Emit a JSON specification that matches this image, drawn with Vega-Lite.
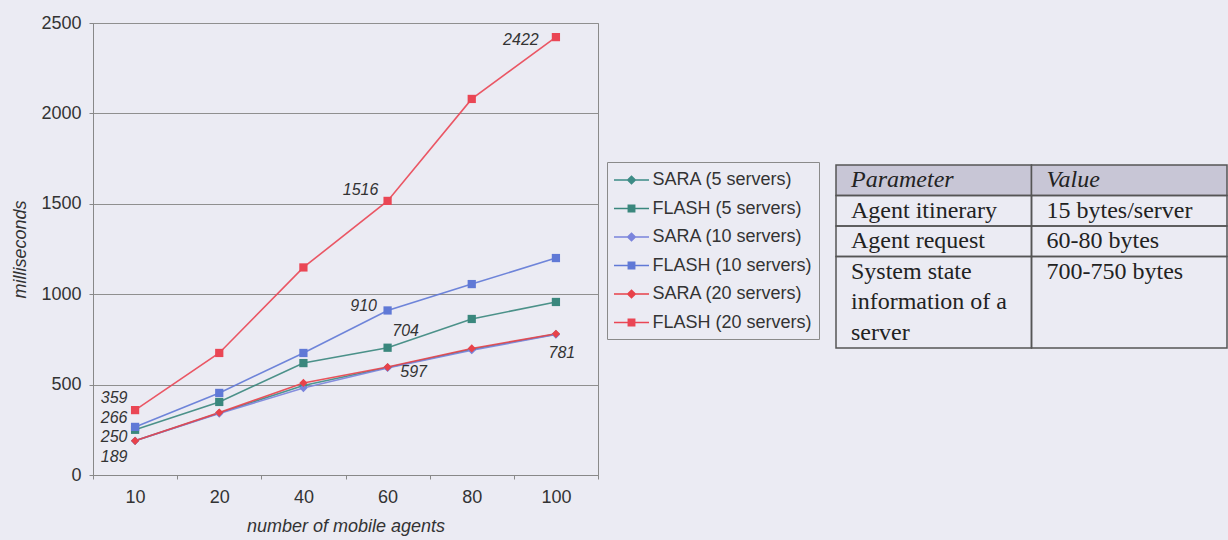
{
  "$schema": "https://vega.github.io/schema/vega-lite/v6.json",
  "width": 505,
  "height": 452,
  "autosize": {"type": "none"},
  "padding": {"left": 93, "top": 23, "right": 630, "bottom": 65},
  "background": "#ebebf3",
  "config": {
    "view": {"stroke": "#8a8a8a", "strokeWidth": 1},
    "font": "Liberation Sans"
  },
  "datasets": {
    "perf": [
      {"series": "SARA (5 servers)", "n": 10, "ms": 189},
      {"series": "SARA (5 servers)", "n": 20, "ms": 343},
      {"series": "SARA (5 servers)", "n": 40, "ms": 495},
      {"series": "SARA (5 servers)", "n": 60, "ms": 595},
      {"series": "SARA (5 servers)", "n": 80, "ms": 695},
      {"series": "SARA (5 servers)", "n": 100, "ms": 779},
      {"series": "FLASH (5 servers)", "n": 10, "ms": 250},
      {"series": "FLASH (5 servers)", "n": 20, "ms": 404},
      {"series": "FLASH (5 servers)", "n": 40, "ms": 619},
      {"series": "FLASH (5 servers)", "n": 60, "ms": 704},
      {"series": "FLASH (5 servers)", "n": 80, "ms": 863},
      {"series": "FLASH (5 servers)", "n": 100, "ms": 957},
      {"series": "SARA (10 servers)", "n": 10, "ms": 189},
      {"series": "SARA (10 servers)", "n": 20, "ms": 340},
      {"series": "SARA (10 servers)", "n": 40, "ms": 481},
      {"series": "SARA (10 servers)", "n": 60, "ms": 592},
      {"series": "SARA (10 servers)", "n": 80, "ms": 690},
      {"series": "SARA (10 servers)", "n": 100, "ms": 777},
      {"series": "FLASH (10 servers)", "n": 10, "ms": 266},
      {"series": "FLASH (10 servers)", "n": 20, "ms": 454},
      {"series": "FLASH (10 servers)", "n": 40, "ms": 675},
      {"series": "FLASH (10 servers)", "n": 60, "ms": 910},
      {"series": "FLASH (10 servers)", "n": 80, "ms": 1056},
      {"series": "FLASH (10 servers)", "n": 100, "ms": 1200},
      {"series": "SARA (20 servers)", "n": 10, "ms": 189},
      {"series": "SARA (20 servers)", "n": 20, "ms": 345},
      {"series": "SARA (20 servers)", "n": 40, "ms": 509},
      {"series": "SARA (20 servers)", "n": 60, "ms": 597},
      {"series": "SARA (20 servers)", "n": 80, "ms": 700},
      {"series": "SARA (20 servers)", "n": 100, "ms": 781},
      {"series": "FLASH (20 servers)", "n": 10, "ms": 359},
      {"series": "FLASH (20 servers)", "n": 20, "ms": 675},
      {"series": "FLASH (20 servers)", "n": 40, "ms": 1148},
      {"series": "FLASH (20 servers)", "n": 60, "ms": 1516},
      {"series": "FLASH (20 servers)", "n": 80, "ms": 2080},
      {"series": "FLASH (20 servers)", "n": 100, "ms": 2422}
    ],
    "cells": [
      {"col": "Parameter", "top": 0, "bottom": 1, "header": true},
      {"col": "Value", "top": 0, "bottom": 1, "header": true},
      {"col": "Parameter", "top": 1, "bottom": 2, "header": false},
      {"col": "Value", "top": 1, "bottom": 2, "header": false},
      {"col": "Parameter", "top": 2, "bottom": 3, "header": false},
      {"col": "Value", "top": 2, "bottom": 3, "header": false},
      {"col": "Parameter", "top": 3, "bottom": 6, "header": false},
      {"col": "Value", "top": 3, "bottom": 6, "header": false}
    ],
    "ttext": [
      {"col": "Parameter", "line": 0, "text": "Parameter", "header": true},
      {"col": "Value", "line": 0, "text": "Value", "header": true},
      {"col": "Parameter", "line": 1, "text": "Agent itinerary", "header": false},
      {"col": "Value", "line": 1, "text": "15 bytes/server", "header": false},
      {"col": "Parameter", "line": 2, "text": "Agent request", "header": false},
      {"col": "Value", "line": 2, "text": "60-80 bytes", "header": false},
      {"col": "Parameter", "line": 3, "text": "System state", "header": false},
      {"col": "Parameter", "line": 4, "text": "information of a", "header": false},
      {"col": "Parameter", "line": 5, "text": "server", "header": false},
      {"col": "Value", "line": 3, "text": "700-750 bytes", "header": false}
    ]
  },
  "layer": [
    {
      "data": {"name": "perf"},
      "encoding": {
        "x": {
          "field": "n", "type": "ordinal",
          "scale": {"type": "band", "paddingInner": 0, "paddingOuter": 0},
          "axis": {
            "title": "number of mobile agents", "titleFontStyle": "italic", "titleFontSize": 18,
            "titleFontWeight": "normal", "titleColor": "#333", "titlePadding": 11,
            "labelFontSize": 18, "labelColor": "#333", "labelAngle": 0, "labelPadding": 9,
            "tickBand": "extent", "tickSize": 4, "tickColor": "#888", "domainColor": "#888", "grid": false
          }
        },
        "y": {
          "field": "ms", "type": "quantitative",
          "scale": {"domain": [0, 2500], "nice": false},
          "axis": {
            "values": [0, 500, 1000, 1500, 2000, 2500], "format": "d",
            "title": "milliseconds", "titleFontStyle": "italic", "titleFontSize": 18,
            "titleFontWeight": "normal", "titleColor": "#333", "titlePadding": 11,
            "labelFontSize": 18, "labelColor": "#333", "labelPadding": 8,
            "tickSize": 4, "tickColor": "#888", "domainColor": "#888",
            "grid": true, "gridColor": "#8f8f8f", "gridWidth": 1
          }
        }
      },
      "layer": [
        {
          "mark": {"type": "line", "strokeWidth": 1.6, "opacity": 0.9},
          "encoding": {
            "color": {
              "field": "series", "type": "nominal",
              "scale": {
                "domain": ["SARA (5 servers)", "FLASH (5 servers)", "SARA (10 servers)", "FLASH (10 servers)", "SARA (20 servers)", "FLASH (20 servers)"],
                "range": ["#3d8c86", "#3a877d", "#7a84dc", "#6079d6", "#e8424a", "#ea4654"]
              }
            }
          }
        },
        {
          "mark": {"type": "point", "filled": true, "opacity": 1, "size": 68},
          "encoding": {
            "shape": {"condition": {"test": "indexof(datum.series, 'SARA') === 0", "value": "diamond"}, "value": "square"},
            "color": {
              "field": "series", "type": "nominal",
              "legend": {
                "title": null, "orient": "none", "legendX": 514, "legendY": 139,
                "padding": 7, "rowPadding": 8.5, "symbolSize": 400, "symbolOffset": 6.5,
                "labelOffset": 10, "labelFontSize": 18, "labelColor": "#333", "labelFont": "Liberation Sans",
                "labelLimit": 300, "symbolOpacity": 1,
                "strokeColor": "#8a8a8a", "fillColor": "#ebebf3", "symbolStrokeWidth": 1.5,
                "encode": {
                  "symbols": {
                    "update": {
                      "shape": {"signal": "indexof(datum.value, 'SARA') === 0 ? 'M-1.75,0H1.75M0,-0.38L0.38,0L0,0.38L-0.38,0Z' : 'M-1.75,0H1.75M-0.32,-0.32H0.32V0.32H-0.32Z'"},
                      "stroke": {"signal": "scale('color', datum.value)"},
                      "fill": {"signal": "scale('color', datum.value)"},
                      "strokeWidth": {"value": 1.5},
                      "opacity": {"value": 1}
                    }
                  }
                }
              }
            }
          }
        },
        {
          "transform": [{"filter": "datum.series === 'FLASH (20 servers)' && datum.n === 100"}],
          "mark": {"type": "text", "fontStyle": "italic", "fontSize": 16, "color": "#333", "dx": -35, "dy": 3},
          "encoding": {"text": {"field": "ms", "type": "quantitative", "format": "d"}}
        },
        {
          "transform": [{"filter": "datum.series === 'FLASH (20 servers)' && datum.n === 60"}],
          "mark": {"type": "text", "fontStyle": "italic", "fontSize": 16, "color": "#333", "dx": -27, "dy": -11},
          "encoding": {"text": {"field": "ms", "type": "quantitative", "format": "d"}}
        },
        {
          "transform": [{"filter": "datum.series === 'FLASH (10 servers)' && datum.n === 60"}],
          "mark": {"type": "text", "fontStyle": "italic", "fontSize": 16, "color": "#333", "dx": -24, "dy": -4},
          "encoding": {"text": {"field": "ms", "type": "quantitative", "format": "d"}}
        },
        {
          "transform": [{"filter": "datum.series === 'FLASH (5 servers)' && datum.n === 60"}],
          "mark": {"type": "text", "fontStyle": "italic", "fontSize": 16, "color": "#333", "dx": 18, "dy": -17},
          "encoding": {"text": {"field": "ms", "type": "quantitative", "format": "d"}}
        },
        {
          "transform": [{"filter": "datum.series === 'SARA (20 servers)' && datum.n === 60"}],
          "mark": {"type": "text", "fontStyle": "italic", "fontSize": 16, "color": "#333", "dx": 26, "dy": 5},
          "encoding": {"text": {"field": "ms", "type": "quantitative", "format": "d"}}
        },
        {
          "transform": [{"filter": "datum.series === 'SARA (20 servers)' && datum.n === 100"}],
          "mark": {"type": "text", "fontStyle": "italic", "fontSize": 16, "color": "#333", "dx": 6, "dy": 19},
          "encoding": {"text": {"field": "ms", "type": "quantitative", "format": "d"}}
        },
        {
          "transform": [{"filter": "datum.series === 'FLASH (20 servers)' && datum.n === 10"}],
          "mark": {"type": "text", "fontStyle": "italic", "fontSize": 16, "color": "#333", "dx": -21, "dy": -12},
          "encoding": {"text": {"field": "ms", "type": "quantitative", "format": "d"}}
        },
        {
          "transform": [{"filter": "datum.series === 'FLASH (10 servers)' && datum.n === 10"}],
          "mark": {"type": "text", "fontStyle": "italic", "fontSize": 16, "color": "#333", "dx": -21, "dy": -9},
          "encoding": {"text": {"field": "ms", "type": "quantitative", "format": "d"}}
        },
        {
          "transform": [{"filter": "datum.series === 'FLASH (5 servers)' && datum.n === 10"}],
          "mark": {"type": "text", "fontStyle": "italic", "fontSize": 16, "color": "#333", "dx": -21, "dy": 7},
          "encoding": {"text": {"field": "ms", "type": "quantitative", "format": "d"}}
        },
        {
          "transform": [{"filter": "datum.series === 'SARA (20 servers)' && datum.n === 10"}],
          "mark": {"type": "text", "fontStyle": "italic", "fontSize": 16, "color": "#333", "dx": -21, "dy": 16},
          "encoding": {"text": {"field": "ms", "type": "quantitative", "format": "d"}}
        }
      ]
    },
    {
      "layer": [
        {
          "data": {"name": "cells"},
          "mark": {"type": "rect", "stroke": "#555", "strokeWidth": 1.5},
          "encoding": {
            "x": {"field": "col", "type": "nominal", "scale": {"type": "band", "domain": ["Parameter", "Value"], "range": [743, 1134], "paddingInner": 0, "paddingOuter": 0}, "axis": null},
            "y": {"field": "top", "type": "quantitative", "scale": {"domain": [0, 6], "range": [142, 325], "nice": false, "zero": false}, "axis": null},
            "y2": {"field": "bottom"},
            "fill": {"condition": {"test": "datum.header", "value": "#c8c6d6"}, "value": "transparent"}
          }
        },
        {
          "data": {"name": "ttext"},
          "transform": [{"filter": "datum.header"}],
          "mark": {"type": "text", "font": "Liberation Serif", "fontSize": 24, "fontStyle": "italic", "align": "left", "baseline": "middle", "dx": 15, "dy": 15.25, "color": "#222"},
          "encoding": {
            "x": {"field": "col", "type": "nominal", "bandPosition": 0, "axis": null},
            "y": {"field": "line", "type": "quantitative", "axis": null},
            "text": {"field": "text"}
          }
        },
        {
          "data": {"name": "ttext"},
          "transform": [{"filter": "!datum.header"}],
          "mark": {"type": "text", "font": "Liberation Serif", "fontSize": 24, "align": "left", "baseline": "middle", "dx": 15, "dy": 15.25, "color": "#222"},
          "encoding": {
            "x": {"field": "col", "type": "nominal", "bandPosition": 0, "axis": null},
            "y": {"field": "line", "type": "quantitative", "axis": null},
            "text": {"field": "text"}
          }
        }
      ]
    }
  ],
  "resolve": {"scale": {"x": "independent", "y": "independent"}}
}
